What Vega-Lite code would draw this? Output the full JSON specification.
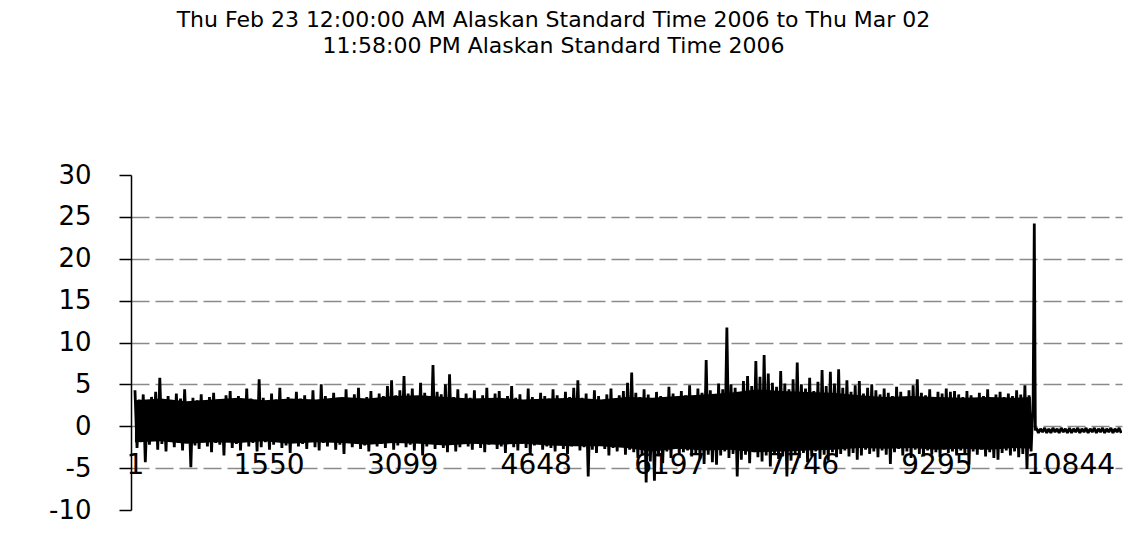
{
"$schema": "https://vega.github.io/schema/vega-lite/v6.json",
"width": 991, "height": 335,
"autosize": "none",
"padding": {"left": 131, "top": 175, "right": 11, "bottom": 25},
"background": "white",
"config": {"view": {"stroke": null}},
"title": {"text": ["Thu Feb 23 12:00:00 AM Alaskan Standard Time 2006 to Thu Mar 02", "11:58:00 PM Alaskan Standard Time 2006"], "font": "DejaVu Sans", "fontSize": 22, "fontWeight": "normal", "color": "black", "anchor": "middle", "frame": "group", "dx": -73, "offset": 104, "lineHeight": 26},
"layer": [
{
"data": {"values": [
{"i":1,"top":3.1,"bottom":-1.9},{"i":300,"top":3.3,"bottom":-1.8},{"i":600,"top":3.0,"bottom":-2.1},{"i":900,"top":3.2,"bottom":-1.9},{"i":1200,"top":3.4,"bottom":-2.0},{"i":1500,"top":3.1,"bottom":-1.8},
{"i":1800,"top":3.3,"bottom":-2.1},{"i":2100,"top":3.2,"bottom":-1.9},{"i":2400,"top":3.5,"bottom":-2.0},{"i":2700,"top":3.3,"bottom":-2.2},{"i":3000,"top":3.6,"bottom":-2.0},{"i":3300,"top":3.7,"bottom":-2.1},
{"i":3600,"top":3.5,"bottom":-2.3},{"i":3900,"top":3.3,"bottom":-2.1},{"i":4200,"top":3.4,"bottom":-2.2},{"i":4500,"top":3.2,"bottom":-2.1},{"i":4800,"top":3.3,"bottom":-2.3},{"i":5100,"top":3.4,"bottom":-2.4},
{"i":5400,"top":3.2,"bottom":-2.4},{"i":5700,"top":3.5,"bottom":-2.6},{"i":6000,"top":3.4,"bottom":-3.0},{"i":6300,"top":3.6,"bottom":-2.7},{"i":6600,"top":3.8,"bottom":-2.9},{"i":6900,"top":4.0,"bottom":-2.8},
{"i":7200,"top":4.4,"bottom":-3.1},{"i":7500,"top":4.2,"bottom":-3.0},{"i":7800,"top":4.1,"bottom":-2.9},{"i":8100,"top":4.0,"bottom":-2.8},{"i":8400,"top":3.7,"bottom":-2.6},{"i":8700,"top":3.5,"bottom":-2.7},
{"i":9000,"top":3.6,"bottom":-2.6},{"i":9300,"top":3.5,"bottom":-2.8},{"i":9600,"top":3.4,"bottom":-2.7},{"i":9900,"top":3.5,"bottom":-2.8},{"i":10200,"top":3.4,"bottom":-2.6},{"i":10390,"top":3.5,"bottom":-2.7}
]},
"mark": {"type": "area", "color": "black", "clip": true},
"encoding": {
  "x": {"field": "i", "type": "quantitative"},
  "y": {"field": "top", "type": "quantitative"},
  "y2": {"field": "bottom"}
}
},
{
"data": {"values": [
{"i":1,"v":4.3},{"i":25,"v":-2.6},{"i":49,"v":3.2},{"i":73,"v":-1.9},{"i":97,"v":3.8},{"i":121,"v":-4.3},{"i":145,"v":2.9},{"i":169,"v":-2.2},{"i":193,"v":3.5},{"i":217,"v":-1.7},
{"i":241,"v":4.1},{"i":265,"v":-2.8},{"i":289,"v":5.8},{"i":313,"v":-2.1},{"i":337,"v":3.0},{"i":361,"v":-3.0},{"i":385,"v":3.6},{"i":409,"v":-1.8},{"i":433,"v":2.8},{"i":457,"v":-2.5},
{"i":481,"v":3.9},{"i":505,"v":-2.0},{"i":529,"v":3.3},{"i":553,"v":-2.9},{"i":577,"v":4.4},{"i":601,"v":-1.6},{"i":625,"v":2.7},{"i":649,"v":-4.9},{"i":673,"v":3.4},{"i":697,"v":-2.3},
{"i":721,"v":3.1},{"i":745,"v":-2.7},{"i":769,"v":3.8},{"i":793,"v":-1.9},{"i":817,"v":2.6},{"i":841,"v":-2.4},{"i":865,"v":3.5},{"i":889,"v":-3.1},{"i":913,"v":4.0},{"i":937,"v":-2.0},
{"i":961,"v":3.2},{"i":985,"v":-2.2},{"i":1009,"v":2.9},{"i":1033,"v":-3.5},{"i":1057,"v":3.7},{"i":1081,"v":-1.8},{"i":1105,"v":4.2},{"i":1129,"v":-2.6},{"i":1153,"v":3.0},{"i":1177,"v":-2.1},
{"i":1201,"v":3.6},{"i":1225,"v":-2.9},{"i":1249,"v":2.8},{"i":1273,"v":-1.7},{"i":1297,"v":4.5},{"i":1321,"v":-2.4},{"i":1345,"v":3.3},{"i":1369,"v":-2.0},{"i":1393,"v":3.1},{"i":1417,"v":-3.0},
{"i":1441,"v":5.6},{"i":1465,"v":-2.5},{"i":1489,"v":3.4},{"i":1513,"v":-1.9},{"i":1537,"v":2.7},{"i":1561,"v":-2.8},{"i":1585,"v":3.9},{"i":1609,"v":-2.2},{"i":1633,"v":3.2},{"i":1657,"v":-1.6},
{"i":1681,"v":4.6},{"i":1705,"v":-2.6},{"i":1729,"v":3.0},{"i":1753,"v":-2.3},{"i":1777,"v":3.5},{"i":1801,"v":-3.2},{"i":1825,"v":2.9},{"i":1849,"v":-1.9},{"i":1873,"v":4.1},{"i":1897,"v":-2.4},
{"i":1921,"v":3.3},{"i":1945,"v":-2.1},{"i":1969,"v":3.7},{"i":1993,"v":-2.7},{"i":2017,"v":2.8},{"i":2041,"v":-1.8},{"i":2065,"v":4.3},{"i":2089,"v":-2.5},{"i":2113,"v":3.1},{"i":2137,"v":-2.9},
{"i":2161,"v":5.0},{"i":2185,"v":-2.0},{"i":2209,"v":3.6},{"i":2233,"v":-2.4},{"i":2257,"v":3.0},{"i":2281,"v":-1.7},{"i":2305,"v":4.0},{"i":2329,"v":-2.8},{"i":2353,"v":3.4},{"i":2377,"v":-2.2},
{"i":2401,"v":2.9},{"i":2425,"v":-3.3},{"i":2449,"v":4.4},{"i":2473,"v":-2.0},{"i":2497,"v":3.2},{"i":2521,"v":-2.5},{"i":2545,"v":3.8},{"i":2569,"v":-1.8},{"i":2593,"v":4.6},{"i":2617,"v":-2.7},
{"i":2641,"v":3.1},{"i":2665,"v":-2.3},{"i":2689,"v":3.5},{"i":2713,"v":-3.0},{"i":2737,"v":4.2},{"i":2761,"v":-1.9},{"i":2785,"v":2.9},{"i":2809,"v":-2.4},{"i":2833,"v":3.9},{"i":2857,"v":-2.1},
{"i":2881,"v":3.6},{"i":2905,"v":-2.6},{"i":2929,"v":4.8},{"i":2953,"v":-2.0},{"i":2977,"v":5.5},{"i":3001,"v":-2.8},{"i":3025,"v":3.7},{"i":3049,"v":-2.3},{"i":3073,"v":4.3},{"i":3097,"v":-1.9},
{"i":3121,"v":6.0},{"i":3145,"v":-2.5},{"i":3169,"v":3.9},{"i":3193,"v":-2.2},{"i":3217,"v":4.5},{"i":3241,"v":-2.9},{"i":3265,"v":3.4},{"i":3289,"v":-2.0},{"i":3313,"v":5.2},{"i":3337,"v":-3.5},
{"i":3361,"v":4.0},{"i":3385,"v":-2.4},{"i":3409,"v":3.6},{"i":3433,"v":-1.8},{"i":3457,"v":7.3},{"i":3481,"v":-2.7},{"i":3505,"v":4.1},{"i":3529,"v":-2.1},{"i":3553,"v":3.8},{"i":3577,"v":-2.6},
{"i":3601,"v":5.0},{"i":3625,"v":-3.1},{"i":3649,"v":6.2},{"i":3673,"v":-2.2},{"i":3697,"v":3.5},{"i":3721,"v":-3.0},{"i":3745,"v":4.4},{"i":3769,"v":-2.5},{"i":3793,"v":3.2},{"i":3817,"v":-1.9},
{"i":3841,"v":3.9},{"i":3865,"v":-2.4},{"i":3889,"v":3.4},{"i":3913,"v":-2.8},{"i":3937,"v":4.3},{"i":3961,"v":-2.0},{"i":3985,"v":3.1},{"i":4009,"v":-2.6},{"i":4033,"v":3.7},{"i":4057,"v":-3.1},
{"i":4081,"v":4.6},{"i":4105,"v":-2.2},{"i":4129,"v":3.3},{"i":4153,"v":-1.8},{"i":4177,"v":3.9},{"i":4201,"v":-2.7},{"i":4225,"v":4.2},{"i":4249,"v":-2.4},{"i":4273,"v":3.0},{"i":4297,"v":-3.2},
{"i":4321,"v":3.6},{"i":4345,"v":-2.0},{"i":4369,"v":4.8},{"i":4393,"v":-2.5},{"i":4417,"v":3.4},{"i":4441,"v":-2.9},{"i":4465,"v":3.8},{"i":4489,"v":-2.1},{"i":4513,"v":3.1},{"i":4537,"v":-2.6},
{"i":4561,"v":4.5},{"i":4585,"v":-3.4},{"i":4609,"v":3.5},{"i":4633,"v":-2.3},{"i":4657,"v":3.2},{"i":4681,"v":-1.9},{"i":4705,"v":4.0},{"i":4729,"v":-2.8},{"i":4753,"v":3.6},{"i":4777,"v":-2.4},
{"i":4801,"v":3.3},{"i":4825,"v":-2.6},{"i":4849,"v":4.4},{"i":4873,"v":-3.0},{"i":4897,"v":3.7},{"i":4921,"v":-2.2},{"i":4945,"v":3.0},{"i":4969,"v":-2.7},{"i":4993,"v":4.1},{"i":5017,"v":-3.3},
{"i":5041,"v":3.5},{"i":5065,"v":-2.4},{"i":5089,"v":4.6},{"i":5113,"v":-2.0},{"i":5137,"v":5.5},{"i":5161,"v":-2.9},{"i":5185,"v":3.4},{"i":5209,"v":-2.5},{"i":5233,"v":3.9},{"i":5257,"v":-6.0},
{"i":5281,"v":3.2},{"i":5305,"v":-2.8},{"i":5329,"v":4.3},{"i":5353,"v":-3.2},{"i":5377,"v":3.6},{"i":5401,"v":-2.3},{"i":5425,"v":3.0},{"i":5449,"v":-2.7},{"i":5473,"v":3.8},{"i":5497,"v":-3.5},
{"i":5521,"v":4.5},{"i":5545,"v":-2.6},{"i":5569,"v":3.3},{"i":5593,"v":-3.0},{"i":5617,"v":3.7},{"i":5641,"v":-2.4},{"i":5665,"v":4.2},{"i":5689,"v":-3.4},{"i":5713,"v":5.2},{"i":5737,"v":-2.8},
{"i":5761,"v":6.4},{"i":5785,"v":-3.1},{"i":5809,"v":4.0},{"i":5833,"v":-3.8},{"i":5857,"v":3.5},{"i":5881,"v":-3.3},{"i":5905,"v":4.4},{"i":5929,"v":-6.7},{"i":5953,"v":3.8},{"i":5977,"v":-4.2},
{"i":6001,"v":3.2},{"i":6025,"v":-6.5},{"i":6049,"v":4.1},{"i":6073,"v":-3.6},{"i":6097,"v":3.6},{"i":6121,"v":-4.4},{"i":6145,"v":3.3},{"i":6169,"v":-3.0},{"i":6193,"v":4.7},{"i":6217,"v":-3.8},
{"i":6241,"v":3.9},{"i":6265,"v":-2.7},{"i":6289,"v":3.5},{"i":6313,"v":-3.4},{"i":6337,"v":4.2},{"i":6361,"v":-3.1},{"i":6385,"v":3.7},{"i":6409,"v":-2.9},{"i":6433,"v":4.9},{"i":6457,"v":-3.6},
{"i":6481,"v":3.4},{"i":6505,"v":-3.2},{"i":6529,"v":4.5},{"i":6553,"v":-3.9},{"i":6577,"v":4.0},{"i":6601,"v":-4.5},{"i":6625,"v":7.9},{"i":6649,"v":-3.4},{"i":6673,"v":4.3},{"i":6697,"v":-4.3},
{"i":6721,"v":3.6},{"i":6745,"v":-4.6},{"i":6769,"v":5.1},{"i":6793,"v":-3.5},{"i":6817,"v":4.4},{"i":6841,"v":-3.0},{"i":6865,"v":11.8},{"i":6889,"v":-3.8},{"i":6913,"v":5.0},{"i":6937,"v":-3.3},
{"i":6961,"v":4.6},{"i":6985,"v":-6.0},{"i":7009,"v":4.0},{"i":7033,"v":-4.0},{"i":7057,"v":5.4},{"i":7081,"v":-3.4},{"i":7105,"v":6.0},{"i":7129,"v":-4.4},{"i":7153,"v":4.8},{"i":7177,"v":-3.1},
{"i":7201,"v":7.8},{"i":7225,"v":-3.7},{"i":7249,"v":5.9},{"i":7273,"v":-4.2},{"i":7297,"v":8.5},{"i":7321,"v":-3.5},{"i":7345,"v":6.3},{"i":7369,"v":-4.8},{"i":7393,"v":5.2},{"i":7417,"v":-3.2},
{"i":7441,"v":4.7},{"i":7465,"v":-3.9},{"i":7489,"v":6.6},{"i":7513,"v":-3.6},{"i":7537,"v":5.1},{"i":7561,"v":-6.0},{"i":7585,"v":4.4},{"i":7609,"v":-4.1},{"i":7633,"v":5.6},{"i":7657,"v":-3.4},
{"i":7681,"v":7.6},{"i":7705,"v":-3.8},{"i":7729,"v":5.0},{"i":7753,"v":-3.2},{"i":7777,"v":4.5},{"i":7801,"v":-4.3},{"i":7825,"v":5.8},{"i":7849,"v":-3.6},{"i":7873,"v":4.2},{"i":7897,"v":-3.0},
{"i":7921,"v":5.3},{"i":7945,"v":-3.9},{"i":7969,"v":6.7},{"i":7993,"v":-3.4},{"i":8017,"v":4.8},{"i":8041,"v":-4.1},{"i":8065,"v":6.5},{"i":8089,"v":-3.1},{"i":8113,"v":5.1},{"i":8137,"v":-3.7},
{"i":8161,"v":6.8},{"i":8185,"v":-3.3},{"i":8209,"v":4.6},{"i":8233,"v":-2.9},{"i":8257,"v":5.5},{"i":8281,"v":-3.6},{"i":8305,"v":4.1},{"i":8329,"v":-3.2},{"i":8353,"v":4.9},{"i":8377,"v":-4.0},
{"i":8401,"v":5.4},{"i":8425,"v":-3.5},{"i":8449,"v":3.9},{"i":8473,"v":-2.8},{"i":8497,"v":4.6},{"i":8521,"v":-3.3},{"i":8545,"v":5.0},{"i":8569,"v":-3.0},{"i":8593,"v":4.3},{"i":8617,"v":-3.7},
{"i":8641,"v":3.8},{"i":8665,"v":-2.9},{"i":8689,"v":4.5},{"i":8713,"v":-3.4},{"i":8737,"v":4.0},{"i":8761,"v":-4.5},{"i":8785,"v":3.6},{"i":8809,"v":-3.1},{"i":8833,"v":4.7},{"i":8857,"v":-2.7},
{"i":8881,"v":4.1},{"i":8905,"v":-3.5},{"i":8929,"v":3.5},{"i":8953,"v":-3.0},{"i":8977,"v":4.3},{"i":9001,"v":-3.8},{"i":9025,"v":4.9},{"i":9049,"v":-2.8},{"i":9073,"v":5.6},{"i":9097,"v":-3.3},
{"i":9121,"v":4.0},{"i":9145,"v":-3.6},{"i":9169,"v":3.7},{"i":9193,"v":-2.9},{"i":9217,"v":4.4},{"i":9241,"v":-3.4},{"i":9265,"v":3.4},{"i":9289,"v":-3.1},{"i":9313,"v":4.1},{"i":9337,"v":-3.7},
{"i":9361,"v":3.9},{"i":9385,"v":-2.8},{"i":9409,"v":4.5},{"i":9433,"v":-3.2},{"i":9457,"v":4.1},{"i":9481,"v":-3.0},{"i":9505,"v":4.2},{"i":9529,"v":-3.5},{"i":9553,"v":3.8},{"i":9577,"v":-2.9},
{"i":9601,"v":3.5},{"i":9625,"v":-3.3},{"i":9649,"v":4.2},{"i":9673,"v":-4.6},{"i":9697,"v":3.7},{"i":9721,"v":-3.0},{"i":9745,"v":3.3},{"i":9769,"v":-3.4},{"i":9793,"v":4.0},{"i":9817,"v":-2.8},
{"i":9841,"v":3.6},{"i":9865,"v":-3.6},{"i":9889,"v":4.4},{"i":9913,"v":-3.1},{"i":9937,"v":3.2},{"i":9961,"v":-3.8},{"i":9985,"v":3.8},{"i":10009,"v":-4.0},{"i":10033,"v":4.1},{"i":10057,"v":-3.2},
{"i":10081,"v":3.5},{"i":10105,"v":-2.9},{"i":10129,"v":3.9},{"i":10153,"v":-3.5},{"i":10177,"v":3.6},{"i":10201,"v":-3.0},{"i":10225,"v":4.3},{"i":10249,"v":-3.7},{"i":10273,"v":3.8},{"i":10297,"v":-3.3},
{"i":10321,"v":4.9},{"i":10345,"v":-5.1},{"i":10369,"v":3.7},{"i":10393,"v":-3.0},
{"i":10417,"v":3.4},{"i":10430,"v":24.2},{"i":10442,"v":-0.5},
{"i":10454,"v":-0.2},{"i":10478,"v":-0.8},{"i":10502,"v":-0.3},{"i":10526,"v":-0.7},{"i":10550,"v":-0.2},{"i":10574,"v":-0.8},{"i":10598,"v":-0.3},{"i":10622,"v":-0.8},{"i":10646,"v":-0.2},{"i":10670,"v":-0.7},
{"i":10694,"v":-0.3},{"i":10718,"v":-0.8},{"i":10742,"v":-0.2},{"i":10766,"v":-0.7},{"i":10790,"v":-0.3},{"i":10814,"v":-0.8},{"i":10838,"v":-0.2},{"i":10862,"v":-0.8},{"i":10886,"v":-0.3},{"i":10910,"v":-0.7},
{"i":10934,"v":-0.2},{"i":10958,"v":-0.8},{"i":10982,"v":-0.3},{"i":11006,"v":-0.7},{"i":11030,"v":-0.2},{"i":11054,"v":-0.8},{"i":11078,"v":-0.3},{"i":11102,"v":-0.7},{"i":11126,"v":-0.2},{"i":11150,"v":-0.8},
{"i":11174,"v":-0.3},{"i":11198,"v":-0.7},{"i":11222,"v":-0.2},{"i":11246,"v":-0.8},{"i":11270,"v":-0.3},{"i":11294,"v":-0.7},{"i":11318,"v":-0.2},{"i":11342,"v":-0.8},{"i":11366,"v":-0.3},{"i":11390,"v":-0.7},
{"i":11414,"v":-0.2},{"i":11438,"v":-0.8}
]},
"mark": {"type": "line", "color": "black", "strokeWidth": 2.8, "strokeJoin": "bevel", "clip": true},
"encoding": {
  "x": {"field": "i", "type": "quantitative", "scale": {"domain": [-45, 11447], "nice": false, "zero": false},
        "axis": {"values": [1, 1550, 3099, 4648, 6197, 7746, 9295, 10844], "format": "d", "title": null, "grid": false, "domain": false, "ticks": false, "offset": -45, "labelPadding": 0, "labelBaseline": "middle", "labelFont": "DejaVu Sans", "labelFontSize": 28, "labelColor": "black", "labelFlush": false, "labelOverlap": false}},
  "y": {"field": "v", "type": "quantitative", "scale": {"domain": [-10, 30], "nice": false},
        "axis": {"values": [-10, -5, 0, 5, 10, 15, 20, 25, 30], "title": null, "grid": true, "gridDash": [18, 6], "gridColor": "#8a8a8a", "gridWidth": 1.5,
                 "gridOpacity": {"condition": {"test": "datum.value === 30 || datum.value === -10", "value": 0}, "value": 1},
                 "labelExpr": "datum.value < 0 ? '-' + abs(datum.value) : '' + datum.value",
                 "domainColor": "black", "domainWidth": 1.5, "tickColor": "black", "tickSize": 12, "tickWidth": 1.5, "labelPadding": 28, "labelFont": "DejaVu Sans", "labelFontSize": 26, "labelColor": "black"}}
}
}
]
}
